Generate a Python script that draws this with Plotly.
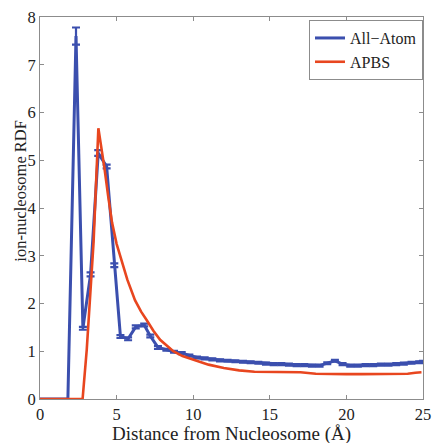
import plotly.graph_objects as go

# All-Atom RDF (blue) with error bars
aa_x = [0.0, 0.5, 1.0, 1.5, 1.82, 2.35, 2.8, 3.3, 3.8, 4.35, 4.85, 5.25, 5.75, 6.25, 6.8,
        7.2, 7.7, 8.25, 8.75, 9.25, 9.75, 10.25, 10.75, 11.25, 11.75, 12.25, 12.75,
        13.25, 13.75, 14.25, 14.75, 15.25, 15.75, 16.25, 16.75, 17.25, 17.75, 18.25,
        18.75, 19.25, 19.75, 20.25, 20.75, 21.25, 21.75, 22.25, 22.75, 23.25, 23.75,
        24.25, 24.75, 25.0]
aa_y = [0.0, 0.0, 0.0, 0.0, 0.0, 7.6, 1.48, 2.61, 5.15, 4.87, 2.80, 1.31, 1.26, 1.51, 1.55,
        1.32, 1.08, 1.03, 0.99, 0.96, 0.91, 0.87, 0.85, 0.83, 0.81, 0.80, 0.79,
        0.78, 0.77, 0.76, 0.74, 0.73, 0.73, 0.72, 0.71, 0.71, 0.70, 0.70,
        0.75, 0.80, 0.73, 0.70, 0.70, 0.71, 0.71, 0.72, 0.72, 0.73, 0.74,
        0.76, 0.77, 0.78]
aa_err = [0, 0, 0, 0, 0, 0.18, 0.03, 0.04, 0.06, 0.04, 0.04, 0.03, 0.03, 0.03, 0.03,
          0.03, 0.03, 0.02, 0.02, 0.02, 0.02, 0.02, 0.02, 0.02, 0.02, 0.02, 0.02,
          0.02, 0.02, 0.02, 0.02, 0.02, 0.02, 0.02, 0.02, 0.02, 0.02, 0.02,
          0.02, 0.02, 0.02, 0.02, 0.02, 0.02, 0.02, 0.02, 0.02, 0.02, 0.02,
          0.02, 0.02, 0.02]

# APBS RDF (red)
pb_x = [0.0, 1.0, 2.0, 2.78, 3.05, 3.3, 3.5, 3.81, 4.0, 4.2, 4.45, 4.7, 5.0, 5.34, 5.7,
        6.2, 6.6, 6.97, 7.4, 7.84, 8.7, 9.3, 10.0, 11.0, 12.0, 13.0, 14.0, 15.0, 16.0,
        17.0, 18.0, 19.0, 20.0, 21.0, 22.0, 23.0, 24.0, 24.5, 24.9]
pb_y = [0.0, 0.0, 0.0, 0.0, 1.03, 2.2, 3.3, 5.67, 5.3, 4.85, 4.25, 3.7, 3.25, 2.91, 2.5,
        2.07, 1.83, 1.65, 1.43, 1.24, 1.0, 0.9, 0.82, 0.72, 0.65, 0.60, 0.57, 0.57, 0.57,
        0.56, 0.53, 0.52, 0.52, 0.52, 0.52, 0.52, 0.53, 0.55, 0.56]

x_ticks = [0, 5, 10, 15, 20, 25]
y_ticks = [0, 1, 2, 3, 4, 5, 6, 7, 8]

blue = "#3b4fae"
red = "#e8461f"
serif = "Liberation Serif"

fig = go.Figure()
fig.add_trace(go.Scatter(
    x=aa_x, y=aa_y, mode="lines", name="All\u2212Atom",
    line=dict(color=blue, width=3),
    error_y=dict(type="data", array=aa_err, visible=True, color=blue,
                 thickness=2.2, width=4),
))
fig.add_trace(go.Scatter(
    x=pb_x, y=pb_y, mode="lines", name="APBS",
    line=dict(color=red, width=2.6),
))

axis_common = dict(
    showgrid=False, zeroline=False, showline=True, linecolor="#8c8c8c", linewidth=1,
    mirror="ticks", ticks="inside", ticklen=4, tickcolor="#8c8c8c",
    tickfont=dict(family=serif, size=16.5, color="#222"), automargin=False,
)
fig.update_xaxes(range=[0, 25], tickvals=x_ticks, ticktext=[str(v) for v in x_ticks],
                 **axis_common)
fig.update_yaxes(range=[0, 8], tickvals=y_ticks, ticktext=[str(v) for v in y_ticks],
                 **axis_common)

fig.add_annotation(text="Distance from Nucleosome (\u00c5)", xref="paper", yref="paper",
                   x=0.5, y=-0.0915, xanchor="center", yanchor="middle", showarrow=False,
                   font=dict(family=serif, size=19, color="#222"))
fig.add_annotation(text="ion-nucleosome RDF", xref="paper", yref="paper",
                   x=-0.05, y=0.545, xanchor="center", yanchor="middle", showarrow=False,
                   textangle=-90, font=dict(family=serif, size=16.5, color="#222"))

fig.update_layout(
    width=435, height=443, autosize=False,
    margin=dict(l=40, r=12, t=17, b=44, autoexpand=False),
    paper_bgcolor="white", plot_bgcolor="white",
    showlegend=True,
    legend=dict(x=1, y=0.992, xanchor="right", yanchor="top",
                bgcolor="white", bordercolor="#8c8c8c", borderwidth=1,
                font=dict(family=serif, size=16, color="#222"),
                tracegroupgap=0, itemwidth=30),
)

fig.write_html("out.html", config={"displayModeBar": False, "responsive": False},
               post_script="document.body.style.margin='0px';"
                           "document.body.style.overflow='hidden';")
